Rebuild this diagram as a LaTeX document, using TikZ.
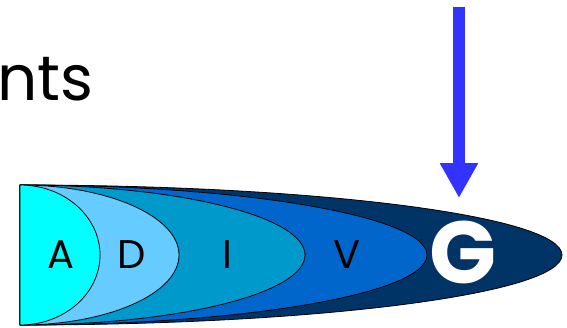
\documentclass[tikz,border=0pt]{standalone}
\usepackage{fontspec}
\setmainfont{Poppins}
\usetikzlibrary{arrows.meta}
\definecolor{layerA}{HTML}{00FFFF}
\definecolor{layerD}{HTML}{66CCFF}
\definecolor{layerI}{HTML}{0099CC}
\definecolor{layerV}{HTML}{0066CC}
\definecolor{layerG}{HTML}{003366}
\definecolor{arrowblue}{HTML}{3333FF}
\tikzset{
  layer/.style={draw=black, line width=0.8pt, line join=round},
  letter/.style={font=\fontsize{40}{40}\selectfont, inner sep=0pt}
}

\begin{document}
\begin{tikzpicture}[x=1pt, y=-1pt]
\useasboundingbox (0,0) rectangle (567,327);
\node[font=\fontsize{63}{63}\selectfont, inner sep=0pt, anchor=base west] (title) at (-3,100) {nts};
\filldraw[layer, fill=layerG] (20,185) arc[start angle=90, end angle=-90, x radius=542pt, y radius=70pt] -- cycle;
\filldraw[layer, fill=layerV] (20,185) arc[start angle=90, end angle=-90, x radius=407pt, y radius=70pt] -- cycle;
\filldraw[layer, fill=layerI] (20,185) arc[start angle=90, end angle=-90, x radius=285pt, y radius=70pt] -- cycle;
\filldraw[layer, fill=layerD] (20,185) arc[start angle=90, end angle=-90, x radius=159pt, y radius=70pt] -- cycle;
\filldraw[layer, fill=layerA] (20,185) arc[start angle=90, end angle=-90, x radius=80pt, y radius=70pt] -- cycle;
\node[letter] (a) at (61,255) {A};
\node[letter] (d) at (132,255) {D};
\node[letter] (i) at (227,255) {I};
\node[letter] (v) at (347,255) {V};
\node[letter, text=white, font=\fontsize{88}{88}\selectfont\bfseries] (g) at (463,252) {G};
\coordinate (arrowtop) at (459,7);
\coordinate (arrowtip) at (459,198);
\draw[arrowblue, line width=12pt, -{Triangle[length=35pt, width=36pt]}] (arrowtop) -- (arrowtip);
\end{tikzpicture}
\end{document}
